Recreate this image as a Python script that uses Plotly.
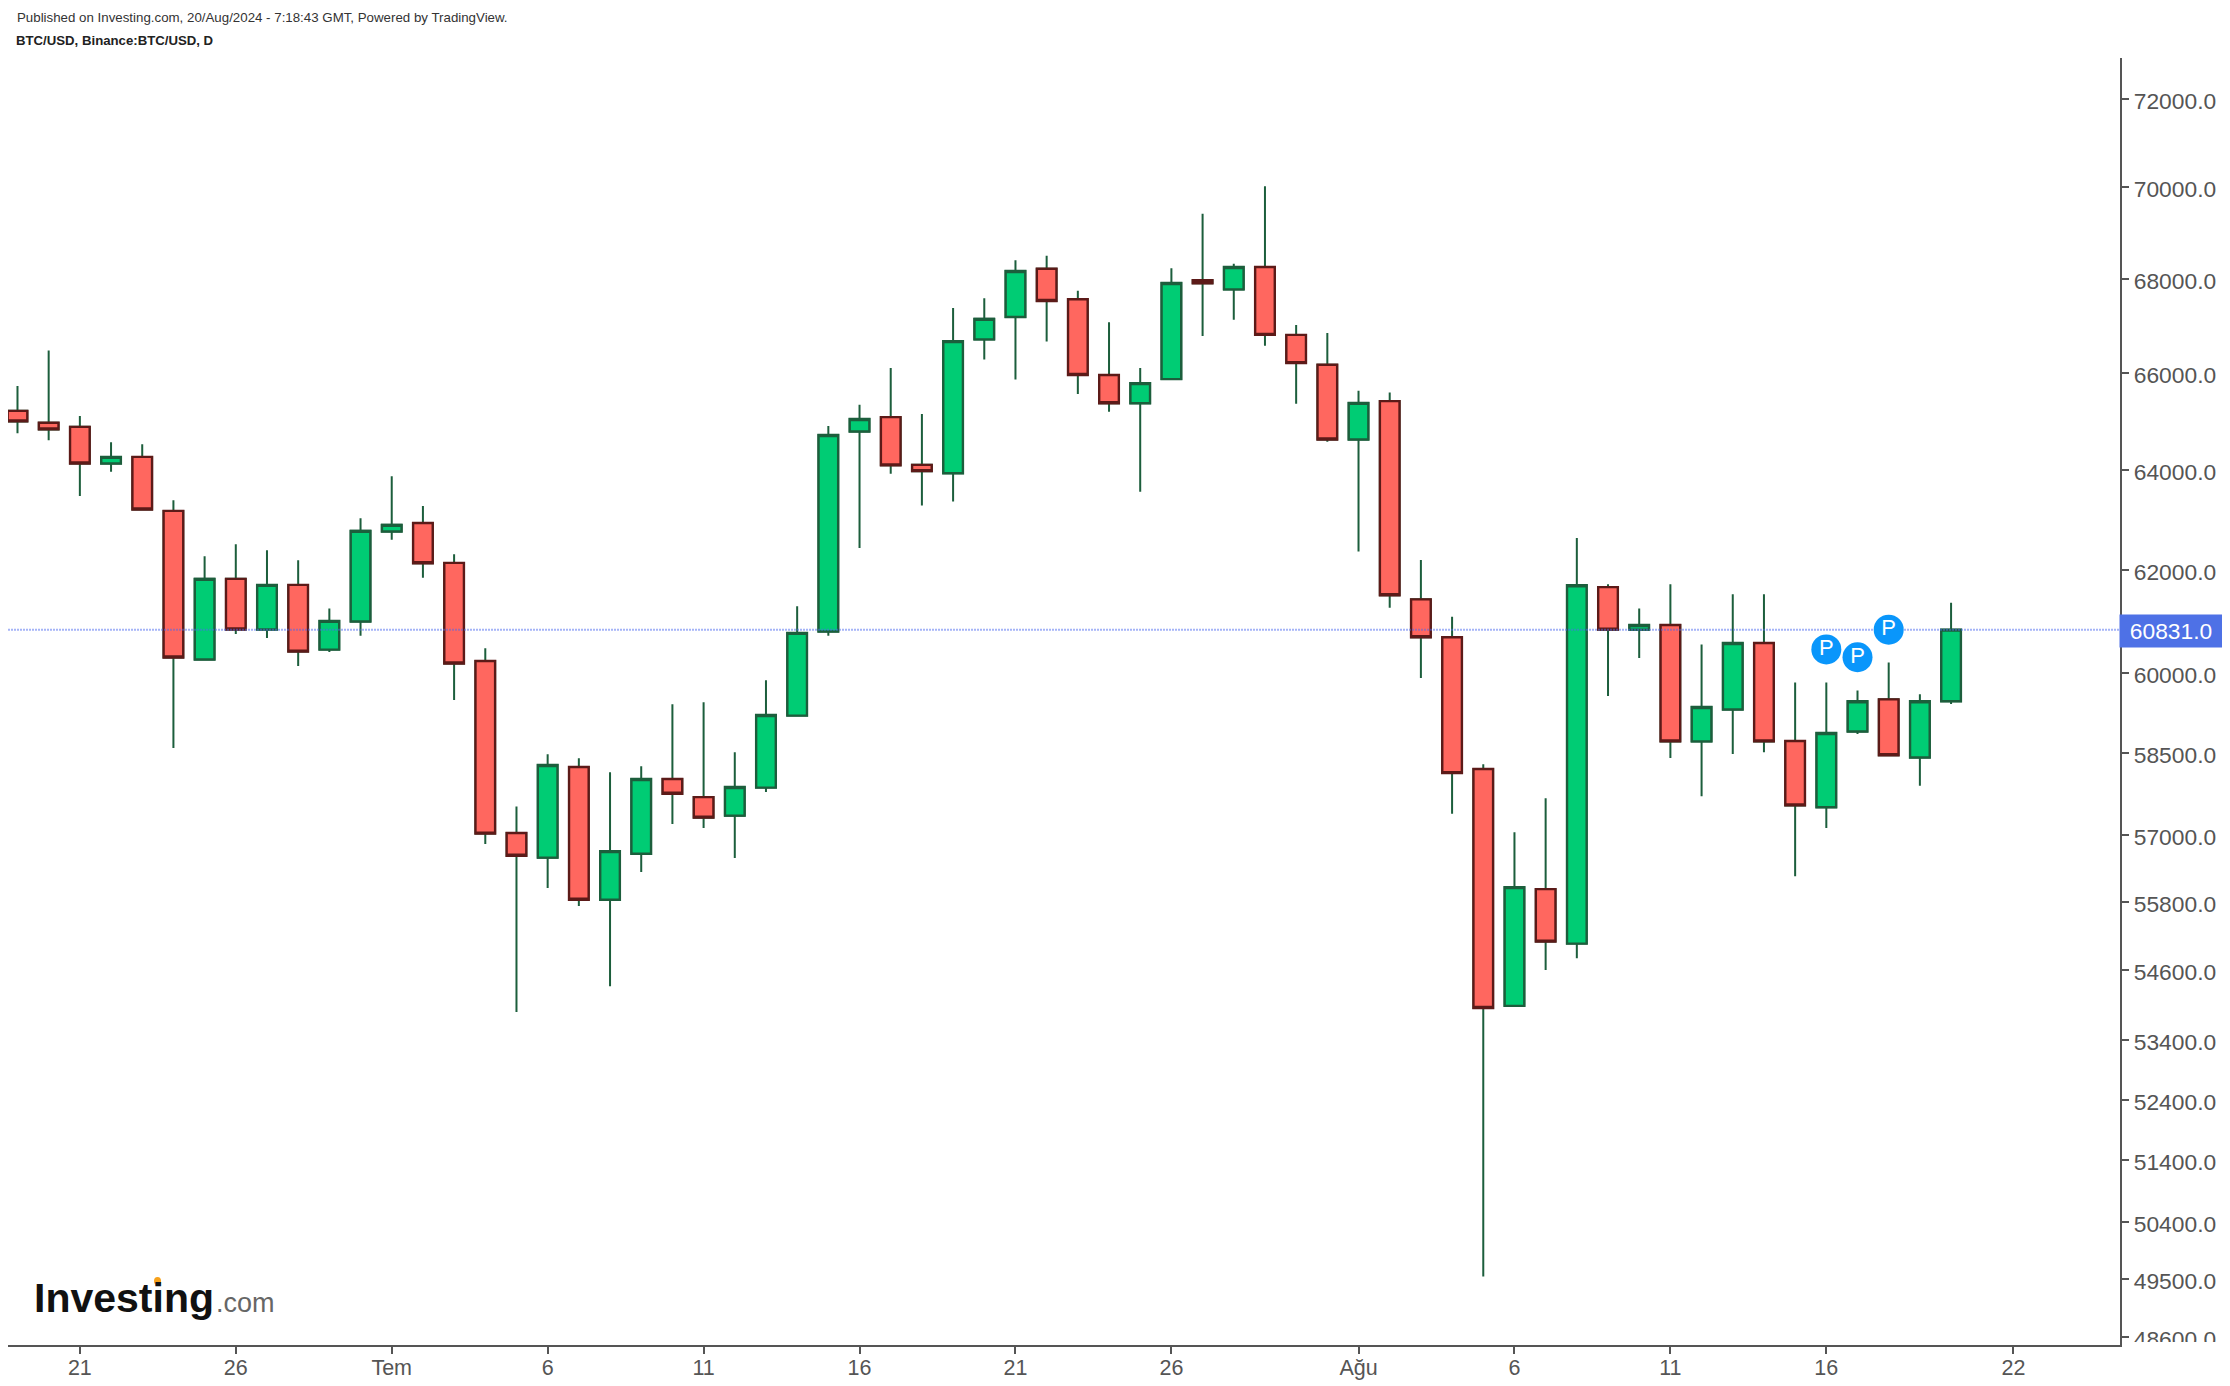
import numpy as np
import pandas as pd
import plotly.graph_objects as go

# Prepare Data
dates = pd.date_range("2024-06-19", "2024-08-20", freq="D")

open_prices = [65205, 64958, 64875, 64125, 64259, 63167, 60256, 61819, 60833, 61701, 60447, 60988,
               62756, 62926, 62133, 60229, 57028, 56584, 58236, 55833, 56655, 58014, 57682, 57343,
               57856, 59194, 60795, 64780, 65075, 64097, 63925, 66701, 67175, 68212, 67556, 65950,
               65362, 65865, 67965, 67768, 68250, 66796, 66165,
               64616, 65407, 61418, 60684, 58199, 53984, 56021, 55061, 61658, 60831, 60920, 58711,
               59307, 60574, 58718, 57496, 58896, 59500, 58411, 59464]
high_prices = [65720, 66465, 65096, 64560, 64519, 63381, 62265, 62503, 62383, 62186, 61240, 63022,
               63868, 63265, 62304, 60472, 57512, 58470, 58396, 58138, 58249, 59406, 59444, 58507,
               59862, 61284, 64892, 65333, 66098, 65141, 67367, 67576, 68395, 68493, 67740, 67063,
               66098, 68222, 69413, 68320, 70024, 67005, 66837,
               65623, 65585, 62190, 61081, 58286, 57041, 57660, 62625, 61711, 61240, 61711, 60543,
               61516, 61516, 59820, 59820, 59668, 60199, 59595, 61350]
low_prices = [64745, 64601, 63468, 63955, 63190, 58587, 60250, 60748, 60671, 60134, 60401, 60712,
              62589, 61839, 59487, 56828, 53877, 56041, 55721, 54323, 56326, 57191, 57118, 56576,
              57774, 59190, 60712, 62427, 63914, 63273, 63355, 66276, 65855, 66654, 65556, 65187,
              63553, 65860, 66772, 67120, 66567, 65352, 64571,
              62357, 61253, 59906, 57378, 49541, 53980, 54600, 54806, 59565, 60286, 58404, 57699,
              58476, 58511, 56253, 57120, 58849, 58450, 57889, 59414]
close_prices = [64987, 64822, 64125, 64259, 63195, 60294, 61819, 60833, 61701, 60408, 61000, 62768,
                62888, 62127, 60180, 57018, 56619, 58273, 55833, 56702, 58014, 57744, 57307, 57866,
                59205, 60768, 64708, 65038, 64087, 63969, 66665, 67137, 68164, 67518, 65950, 65362,
                65782, 67905, 67900, 68250, 66796, 66201, 64616,
                65370, 61498, 60684, 58123, 53948, 56057, 55096, 61695, 60831, 60920, 58711, 59355,
                60574, 58711, 57530, 58868, 59464, 58454, 59464, 60831]

price_ticks = [72000, 70000, 68000, 66000, 64000, 62000, 60000, 58500, 57000, 55800, 54600, 53400,
               52400, 51400, 50400, 49500, 48600]
price_labels = [f"{p}.0" for p in price_ticks]
date_ticks = ["2024-06-21", "2024-06-26", "2024-07-01", "2024-07-06", "2024-07-11", "2024-07-16",
              "2024-07-21", "2024-07-26", "2024-08-01", "2024-08-06", "2024-08-11", "2024-08-16",
              "2024-08-22"]
date_labels = ["21", "26", "Tem", "6", "11", "16", "21", "26", "Ağu", "6", "11", "16", "22"]

pub_dates = ["2024-08-16", "2024-08-17", "2024-08-18"]
pub_prices = [60450, 60300, 60831]

last_price = close_prices[-1]
x_range = ["2024-06-18 16:42", "2024-08-25 10:00"]
y_range = [72932, 48475]

# page has 8px body margin, so everything is placed 8px up and left
W, H = 2218, 1372
L, R, T, B = 0, 106, 50, 33
plot_w = W - L - R
plot_h = H - T - B


def px(x):
    return (x - 8 - L) / plot_w


def py(y):
    return 1 - (y - 8 - T) / plot_h


FONT = "Liberation Sans"
AXIS = "#555555"

body_top = np.maximum(open_prices, close_prices)
body_bot = np.minimum(open_prices, close_prices)

fig = go.Figure()

# wicks are dark green on every candle
fig.add_trace(go.Candlestick(
    x=dates, open=open_prices, high=high_prices, low=low_prices, close=close_prices,
    increasing=dict(line=dict(color="#1C5E3C", width=2), fillcolor="rgba(0,0,0,0)"),
    decreasing=dict(line=dict(color="#1C5E3C", width=2), fillcolor="rgba(0,0,0,0)"),
    hoverinfo="skip", showlegend=False))
fig.add_trace(go.Candlestick(
    x=dates, open=open_prices, high=body_top, low=body_bot, close=close_prices,
    increasing=dict(line=dict(color="#1C5E3C", width=2.4), fillcolor="#00CC74"),
    decreasing=dict(line=dict(color="#5C1A18", width=2.4), fillcolor="#FF675F"),
    hoverinfo="skip", showlegend=False))

# last price line
fig.add_trace(go.Scatter(
    x=x_range, y=[last_price, last_price], mode="lines",
    line=dict(color="rgba(75,105,240,0.5)", width=2, dash="2px,1px"),
    hoverinfo="skip", showlegend=False))

fig.add_trace(go.Scatter(
    x=pub_dates, y=pub_prices, mode="markers+text", text=["P", "P", "P"],
    textposition="middle center", textfont=dict(family=FONT, size=22, color="white"),
    marker=dict(size=30, color="#0996FB", line=dict(width=0)),
    hoverinfo="skip", showlegend=False))

fig.update_layout(
    width=W, height=H, margin=dict(l=L, r=R, t=T, b=B),
    paper_bgcolor="white", plot_bgcolor="white",
    font=dict(family=FONT, color=AXIS),
    boxgap=0.37, boxgroupgap=0, showlegend=False,
    xaxis=dict(
        type="date", range=x_range, rangeslider=dict(visible=False),
        tickmode="array", tickvals=date_ticks, ticktext=date_labels,
        tickfont=dict(family=FONT, size=21.5, color=AXIS), ticklabelstandoff=-5,
        ticks="outside", ticklen=7, tickwidth=2, tickcolor=AXIS,
        showline=True, linecolor=AXIS, linewidth=2.4, showgrid=False, zeroline=False),
    yaxis=dict(
        type="log", side="right", range=[np.log10(y_range[1]), np.log10(y_range[0])],
        tickmode="array", tickvals=price_ticks, ticktext=price_labels,
        tickfont=dict(family=FONT, size=22.8, color=AXIS), ticklabelshift=2,
        ticks="outside", ticklen=7, tickwidth=2, tickcolor=AXIS,
        showline=True, linecolor=AXIS, linewidth=2.4, showgrid=False, zeroline=False),
)

# header text
fig.add_annotation(text="Published on Investing.com, 20/Aug/2024 - 7:18:43 GMT, Powered by TradingView.",
                   xref="paper", yref="paper", x=px(15), y=py(17), xanchor="left", yanchor="middle",
                   showarrow=False, font=dict(family=FONT, size=13.3, color="#333333"))
fig.add_annotation(text="<b>BTC/USD, Binance:BTC/USD, D</b>",
                   xref="paper", yref="paper", x=px(14), y=py(40), xanchor="left", yanchor="middle",
                   showarrow=False, font=dict(family=FONT, size=13.2, color="#222222"))

# logo
fig.add_annotation(text="<b>Investing</b>", xref="paper", yref="paper", x=px(32), y=py(1300),
                   xanchor="left", yanchor="middle", showarrow=False,
                   font=dict(family=FONT, size=41, color="#111111"))
fig.add_annotation(text=".com", xref="paper", yref="paper", x=px(214), y=py(1305),
                   xanchor="left", yanchor="middle", showarrow=False,
                   font=dict(family=FONT, size=27, color="#666666"))
fig.add_shape(type="circle", xref="paper", yref="paper", x0=px(154), x1=px(161), y0=py(1287), y1=py(1279),
              fillcolor="#F7A11A", line=dict(width=0), layer="above")

# last price tag
fig.add_annotation(text=f"{last_price}.0", xref="paper", yref="y", x=1, y=np.log10(last_price),
                   xanchor="left", yanchor="middle", xshift=-1, yshift=-1, width=100, height=30,
                   showarrow=False, bgcolor="#4E71E6", align="center",
                   font=dict(family=FONT, size=22.8, color="white"))

# bottom label is cut off in the original
fig.add_shape(type="rect", xref="paper", yref="paper", x0=px(2126), x1=px(2226), y0=py(1352), y1=py(1344),
              fillcolor="white", line=dict(width=0), layer="above")

fig.write_html("out.html")
